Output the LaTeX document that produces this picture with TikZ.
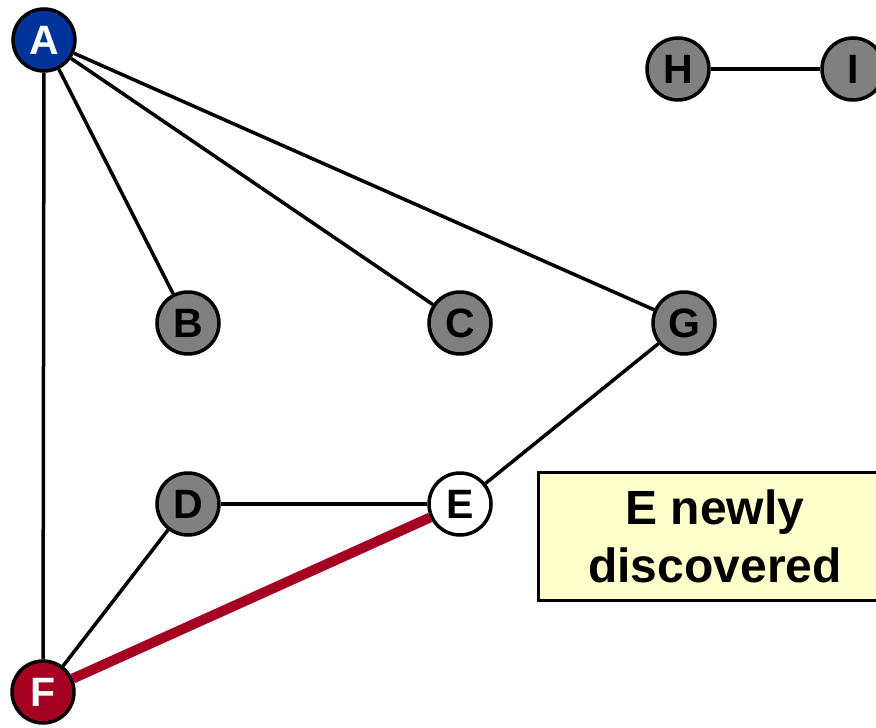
\documentclass[tikz,border=0pt]{standalone}
\usepackage{fontspec}
\setmainfont{Liberation Sans}
\definecolor{vblue}{HTML}{003399}
\definecolor{vred}{HTML}{A50021}
\definecolor{vgray}{HTML}{808080}
\definecolor{notey}{HTML}{FFFFCC}
\begin{document}
\begin{tikzpicture}[x=1pt, y=-1pt,
        vert/.style={draw, circle, line width=3.5pt, fill=vgray, minimum size=62pt, inner sep=0pt,
            font=\fontsize{41}{43}\selectfont\bfseries},
        edge/.style={line width=3.5pt},
        treeedge/.style={line width=10pt, vred}]
        \useasboundingbox (0, 0) rectangle (876, 728);
        \clip (0, 0) rectangle (876, 728);

        \node[vert, fill=vblue, text=white] (A) at (44, 40) {A};
        \node[vert] (H) at (678, 69) {H};
        \node[vert] (I) at (853, 69) {I};
        \node[vert] (B) at (188, 323) {B};
        \node[vert] (C) at (460, 323) {C};
        \node[vert] (G) at (684, 323) {G};
        \node[vert] (D) at (188, 504) {D};
        \node[vert, fill=white] (E) at (460, 504) {E};
        \node[vert, fill=vred, text=white] (F) at (43, 692) {F};

        \node[draw, line width=3pt, fill=notey, minimum width=354pt, minimum height=128pt,
            align=center, font=\fontsize{48}{58}\selectfont\bfseries] (note) at (715, 536) {E newly\\discovered};

        \draw[edge] (A) -- (B);
        \draw[edge] (A) -- (C);
        \draw[edge] (A) -- (G);
        \draw[edge] (A) -- (F);
        \draw[edge] (H) -- (I);
        \draw[edge] (G) -- (E);
        \draw[edge] (D) -- (E);
        \draw[edge] (D) -- (F);
        \draw[treeedge] (F) -- (E);
    \end{tikzpicture}
\end{document}
